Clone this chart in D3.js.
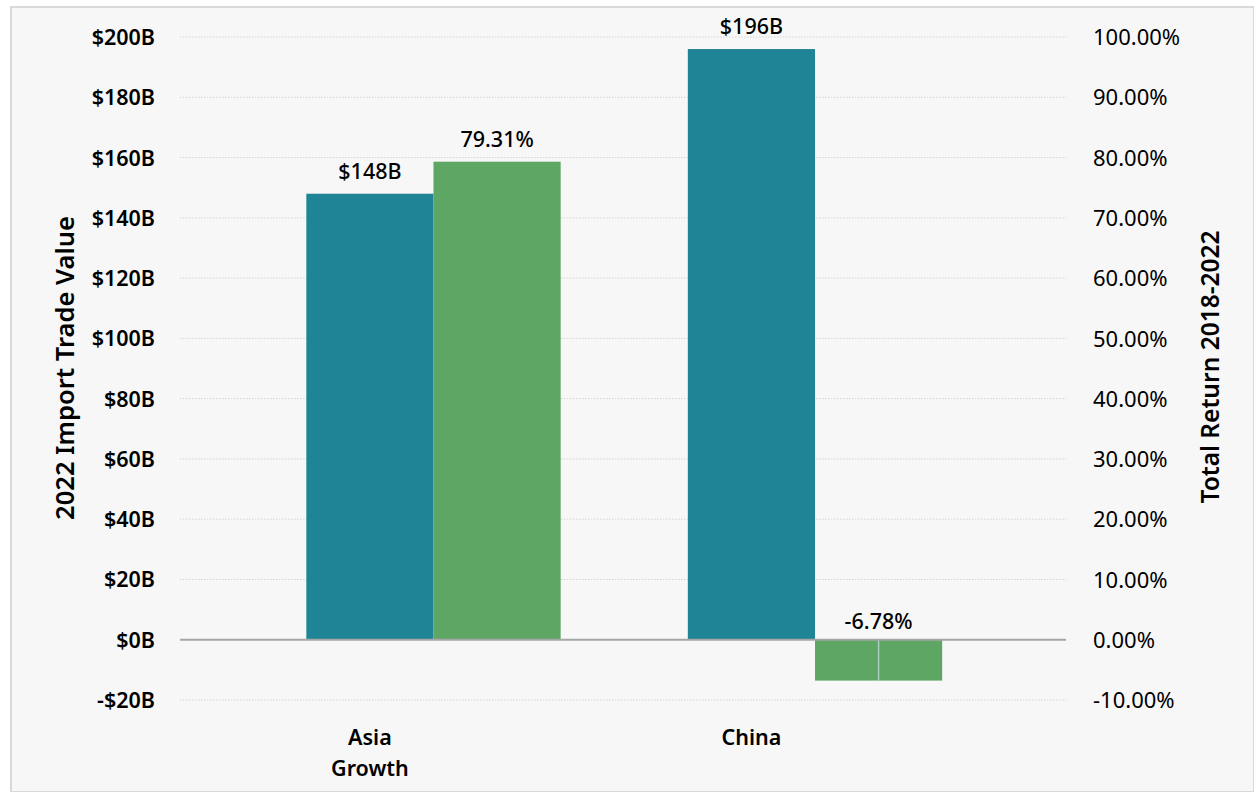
<!DOCTYPE html>
<html><head><meta charset="utf-8">
<script src="https://cdn.jsdelivr.net/npm/d3@7"></script>
<style>
html,body{margin:0;padding:0;background:#fff;}
text{font-family:"Noto Sans","Open Sans",sans-serif;fill:#000;}
</style></head>
<body>
<svg id="c" width="1254" height="792"></svg>
<script>
const categories = ["Asia Growth", "China"];
const categoryLines = [["Asia", "Growth"], ["China"]];
const importValues = [148, 196];          // $B
const totalReturns = [79.31, -6.78];      // %
const importLabels = ["$148B", "$196B"];
const returnLabels = ["79.31%", "-6.78%"];
const leftTicks = [-20, 0, 20, 40, 60, 80, 100, 120, 140, 160, 180, 200];
const rightTicks = [-10, 0, 10, 20, 30, 40, 50, 60, 70, 80, 90, 100];

const svg = d3.select("#c");
svg.append("rect").attr("x", 11).attr("y", 7).attr("width", 1243).attr("height", 785)
  .attr("fill", "#f7f7f7").attr("stroke", "#d9d9d9").attr("stroke-width", 2);

const plotL = 180, plotR = 1066;
const yL = d3.scaleLinear().domain([-20, 200]).range([700, 37]);
const yR = d3.scaleLinear().domain([-10, 100]).range([700, 37]);
const x = d3.scaleBand().domain(categories).range([242.75, 1005.75]).paddingInner(0).paddingOuter(0);
const barW = x.bandwidth() / 3;
const sub = d3.scaleBand().domain(["imp", "ret"]).range([0, barW * 2]);

const teal = "#1f8495", green = "#5ea663";

// gridlines
svg.append("g").selectAll("line").data(leftTicks.filter(d => d !== 0)).join("line")
  .attr("x1", plotL).attr("x2", plotR)
  .attr("y1", d => yL(d)).attr("y2", d => yL(d))
  .attr("stroke", "#d4d4d4").attr("stroke-width", 1).attr("stroke-dasharray", "1.5,1.5");

// left axis
const axL = d3.axisLeft(yL).tickValues(leftTicks).tickSize(0).tickPadding(0)
  .tickFormat(d => (d < 0 ? "-$" + Math.abs(d) : "$" + d) + "B");
const gL = svg.append("g").attr("transform", "translate(155,0)").call(axL);
gL.select(".domain").remove();
gL.selectAll("text").attr("font-size", 21.5).attr("font-weight", 600)
  .style("font-family", '"Noto Sans",sans-serif').attr("dy", "0.35em");

// right axis
const axR = d3.axisRight(yR).tickValues(rightTicks).tickSize(0).tickPadding(0)
  .tickFormat(d => d.toFixed(2) + "%");
const gR = svg.append("g").attr("transform", "translate(1093,0)").call(axR);
gR.select(".domain").remove();
gR.selectAll("text").attr("font-size", 22).attr("font-weight", 400)
  .style("font-family", '"Noto Sans",sans-serif').attr("dy", "0.35em");

// bars
const gB = svg.append("g");
gB.selectAll("rect.imp").data(categories).join("rect").attr("class", "imp")
  .attr("x", (d) => x(d) + barW * 0.5 + sub("imp"))
  .attr("width", barW)
  .attr("y", (d, i) => yL(Math.max(0, importValues[i])))
  .attr("height", (d, i) => Math.abs(yL(importValues[i]) - yL(0)))
  .attr("fill", teal);
gB.selectAll("rect.ret").data(categories).join("rect").attr("class", "ret")
  .attr("x", (d) => x(d) + barW * 0.5 + sub("ret"))
  .attr("width", barW)
  .attr("y", (d, i) => yR(Math.max(0, totalReturns[i])))
  .attr("height", (d, i) => Math.abs(yR(totalReturns[i]) - yR(0)))
  .attr("fill", green);

// thin line inside negative bar
gB.selectAll("line.neg").data(categories.filter((d, i) => totalReturns[i] < 0)).join("line")
  .attr("x1", d => x(d) + barW * 0.5 + sub("ret") + barW / 2)
  .attr("x2", d => x(d) + barW * 0.5 + sub("ret") + barW / 2)
  .attr("y1", yR(0)).attr("y2", d => yR(totalReturns[categories.indexOf(d)]))
  .attr("stroke", "#a9cdbf").attr("stroke-width", 1.5);

// zero line
svg.append("line").attr("x1", plotL).attr("x2", plotR).attr("y1", yL(0)).attr("y2", yL(0))
  .attr("stroke", "#a6a6a6").attr("stroke-width", 2);

// labels
const gT = svg.append("g").attr("text-anchor", "middle").attr("font-size", 21.5);
gT.selectAll("text.il").data(categories).join("text").attr("class", "il")
  .attr("x", d => x(d) + barW * 0.5 + sub("imp") + barW / 2)
  .attr("y", (d, i) => yL(importValues[i]) - 15)
  .attr("font-weight", 500)
  .text((d, i) => importLabels[i]);
gT.selectAll("text.rl").data(categories).join("text").attr("class", "rl")
  .attr("x", d => x(d) + barW * 0.5 + sub("ret") + barW / 2)
  .attr("y", (d, i) => totalReturns[i] >= 0 ? yR(totalReturns[i]) - 15 : yR(0) - 11)
  .attr("font-weight", 500)
  .text((d, i) => returnLabels[i]);

// category labels
const gC = svg.append("g").attr("text-anchor", "middle").attr("font-size", 21.5).attr("font-weight", 600);
categories.forEach((c, i) => {
  const cx = x(c) + barW * 0.5 + sub("imp") + barW / 2;
  const t = gC.append("text").attr("x", cx).attr("y", 745);
  categoryLines[i].forEach((ln, j) => t.append("tspan").attr("x", cx).attr("dy", j === 0 ? 0 : 31).text(ln));
});

// axis titles
svg.append("text").attr("transform", "translate(74,368) rotate(-90)").attr("text-anchor", "middle")
  .attr("font-size", 25.5).attr("font-weight", 600).text("2022 Import Trade Value");
svg.append("text").attr("transform", "translate(1219,367) rotate(-90)").attr("text-anchor", "middle")
  .attr("font-size", 24.5).attr("font-weight", 600).text("Total Return 2018-2022");
</script>
</body></html>
